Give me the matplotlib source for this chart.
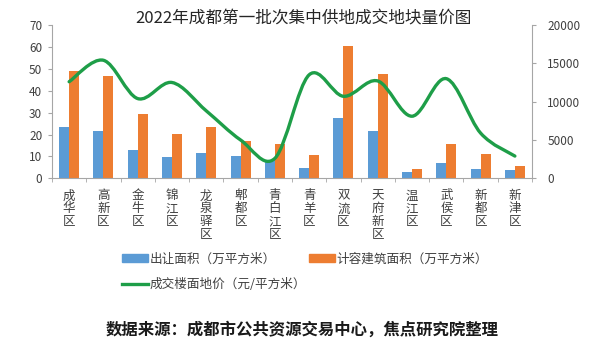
import numpy as np
import matplotlib
matplotlib.use("Agg")
import matplotlib.pyplot as plt
from matplotlib.path import Path
from matplotlib.patches import PathPatch, Patch
from matplotlib.lines import Line2D

plt.rcParams['font.family'] = ['Noto Sans CJK SC', 'DejaVu Sans']

districts = ['成华区', '高新区', '金牛区', '锦江区', '龙泉驿区', '郫都区', '青白江区',
             '青羊区', '双流区', '天府新区', '温江区', '武侯区', '新都区', '新津区']
land_area = [23.6, 21.6, 12.8, 9.9, 11.7, 10.3, 8.4,
             4.7, 27.7, 21.8, 2.7, 6.9, 4.3, 3.8]
build_area = [49.1, 46.9, 29.3, 20.4, 23.3, 16.9, 15.7,
              10.7, 60.2, 47.7, 4.3, 15.6, 11.1, 5.6]
floor_price = [12600, 15400, 10400, 12500, 8800, 5000, 2600,
               13500, 10700, 12700, 8100, 13000, 5900, 2900]

blue = '#5B9BD5'
orange = '#ED7D31'
green = '#1E9E48'
axis_grey = '#A6A6A6'

fig = plt.figure(figsize=(6.13, 3.45), dpi=100)
ax = fig.add_axes([0.0848, 0.4832, 0.7831, 0.4443])
ax2 = ax.twinx()

x = np.arange(len(districts))
w = 0.29
ax.bar(x - w / 2, land_area, w, color=blue, zorder=2)
ax.bar(x + w / 2, build_area, w, color=orange, zorder=2)
ax.set_xlim(-0.5, len(districts) - 0.5)
ax.set_ylim(0, 70)
ax.set_yticks(range(0, 71, 10))

# smooth line like Excel (Catmull-Rom bezier)
px = x.astype(float)
py = np.array(floor_price, dtype=float)
verts = [(px[0], py[0])]
codes = [Path.MOVETO]
n = len(px)
for i in range(n - 1):
    p0 = (px[max(i - 1, 0)], py[max(i - 1, 0)])
    p1 = (px[i], py[i])
    p2 = (px[i + 1], py[i + 1])
    p3 = (px[min(i + 2, n - 1)], py[min(i + 2, n - 1)])
    c1 = (p1[0] + (p2[0] - p0[0]) / 6, p1[1] + (p2[1] - p0[1]) / 6)
    c2 = (p2[0] - (p3[0] - p1[0]) / 6, p2[1] - (p3[1] - p1[1]) / 6)
    verts += [c1, c2, p2]
    codes += [Path.CURVE4] * 3
ax2.add_patch(PathPatch(Path(verts, codes), facecolor='none', edgecolor=green,
                        lw=2.4, capstyle='round', zorder=3))
ax2.set_ylim(0, 20000)
ax2.set_yticks(range(0, 20001, 5000))

for a in (ax, ax2):
    a.spines['top'].set_visible(False)
    for s in ('left', 'right', 'bottom'):
        a.spines[s].set_color(axis_grey)
        a.spines[s].set_linewidth(0.8)
ax.spines['right'].set_visible(False)
ax2.spines['left'].set_visible(False)
ax2.spines['bottom'].set_visible(False)

ax.tick_params(axis='y', length=3, color=axis_grey, labelsize=8.5, pad=4, labelcolor='#404040')
ax2.tick_params(axis='y', length=3, color=axis_grey, labelsize=8.5, pad=8, labelcolor='#404040')

ax.set_xticks(x)
ax.set_xticklabels(['\n'.join(d) for d in districts], fontsize=9,
                   linespacing=1.0, va='top', color='#404040')
ax.set_xticks(np.arange(-0.5, len(districts)), minor=True)
ax.tick_params(axis='x', which='major', length=0, pad=8)
ax.tick_params(axis='x', which='minor', length=3, color=axis_grey)

fig.text(0.495, 0.948, '2022年成都第一批次集中供地成交地块量价图', ha='center',
         va='center', fontsize=12, color='#262626')

handles = [Patch(color=blue), Line2D([], [], color=green, lw=2.4),
           Patch(color=orange)]
labels = ['出让面积（万平方米）', '成交楼面地价（元/平方米）', '计容建筑面积（万平方米）']
fig.legend(handles, labels, ncol=2, loc='upper left', bbox_to_anchor=(0.199, 0.268),
           frameon=False, fontsize=9.1, handlelength=2.05, handleheight=0.5,
           handletextpad=0.15, columnspacing=0.2, labelspacing=0.95,
           borderaxespad=0, borderpad=0, labelcolor='#404040')

fig.text(0.493, 0.043, '数据来源：成都市公共资源交易中心，焦点研究院整理', ha='center',
         va='center', fontsize=11.8, fontweight='bold', color='#1a1a1a')

fig.savefig('out.png', dpi=100)
